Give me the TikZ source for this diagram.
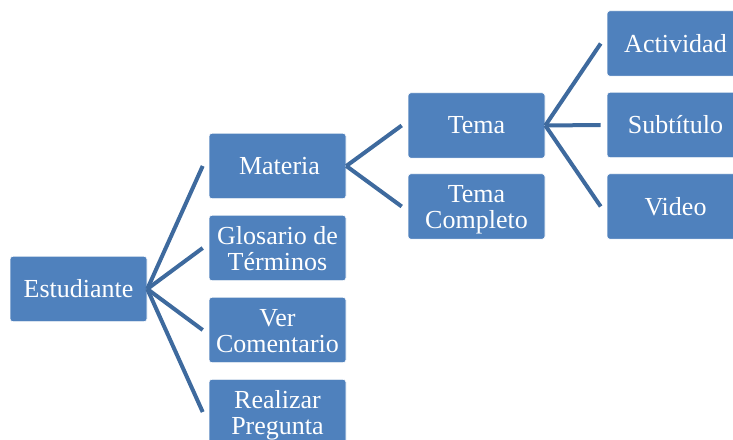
\documentclass[tikz,border=0pt]{standalone}
\usepackage{fontspec}
\setmainfont{Liberation Serif}
\definecolor{boxblue}{RGB}{79,129,189}
\definecolor{lineblue}{RGB}{62,106,158}
\newcommand\twoline[2]{\raisebox{-4pt}[\height][\depth]{\begin{tabular}{@{}c@{}}#1\\#2\end{tabular}}}
\begin{document}
\begin{tikzpicture}[x=1pt,y=1pt,
  box/.style={rectangle, rounded corners=3pt, fill=boxblue, draw=white, line width=0.6pt,
    minimum width=137pt, minimum height=65.5pt, inner sep=0pt, align=center,
    text=white, font=\fontsize{26}{26}\selectfont},
  conn/.style={draw=lineblue, line width=4pt}]
\useasboundingbox (0,0) rectangle (733,439);
\node[box] (est) at (78.5,150) {Estudiante};
\node[box] (mat) at (277.5,273) {\hspace{4pt}Materia};
\node[box] (glo) at (277.5,191) {\twoline{Glosario de}{Términos}};
\node[box] (ver) at (277.5,109) {\twoline{Ver}{Comentario}};
\node[box] (rea) at (277.5,27) {\twoline{Realizar}{Pregunta}};
\node[box] (tem) at (476.5,313.5) {Tema};
\node[box] (tco) at (476.5,232.5) {\twoline{Tema}{Completo}};
\node[box] (act) at (675.5,395.5) {Actividad};
\node[box] (sub) at (675.5,314) {Subtítulo};
\node[box] (vid) at (675.5,232.5) {Video};
\foreach \c in {mat,glo,ver,rea}
  \draw[conn] (est.east) -- ([xshift=-6pt]\c.west);
\foreach \c in {tem,tco}
  \draw[conn] (mat.east) -- ([xshift=-6pt]\c.west);
\foreach \c in {act,sub,vid}
  \draw[conn] (tem.east) -- ([xshift=-6pt]\c.west);
\end{tikzpicture}
\end{document}
